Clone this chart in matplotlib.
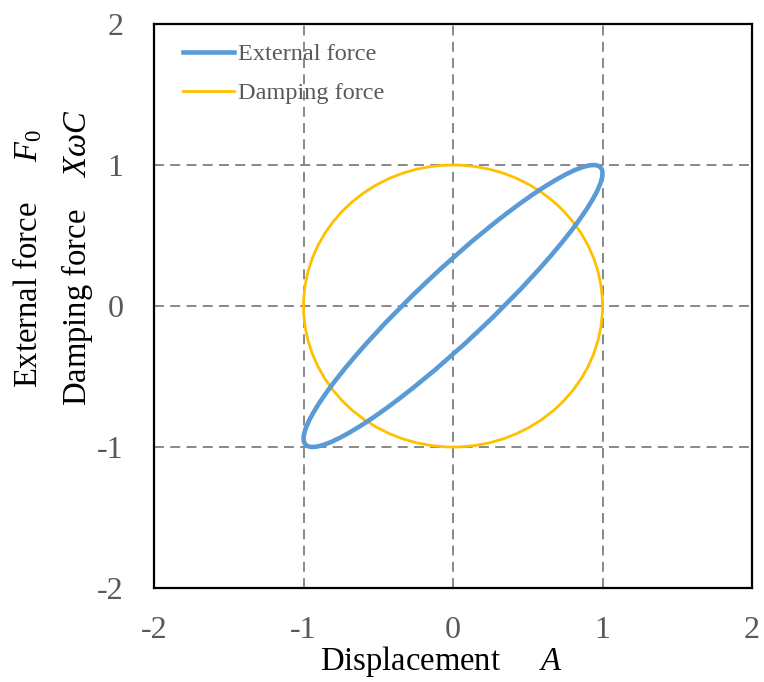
import matplotlib.pyplot as plt
from matplotlib.patches import Ellipse, Circle
from matplotlib.lines import Line2D

plt.rcParams['font.family'] = 'Liberation Serif'
plt.rcParams['mathtext.fontset'] = 'custom'
plt.rcParams['mathtext.rm'] = 'Liberation Serif'
plt.rcParams['mathtext.it'] = 'Liberation Serif:italic'
plt.rcParams['axes.unicode_minus'] = False

# data
ticks = [-2, -1, 0, 1, 2]
grid_vals = [-1, 0, 1]
labels = ['External force', 'Damping force']
colors = ['#5B9BD5', '#FFC000']
# external force loop: ellipse tilted 45 deg (phase lag ~20 deg)
ext_center = (0, 0)
ext_width = 2.785
ext_height = 0.491
ext_angle = 45
# damping force: unit circle
damp_center = (0, 0)
damp_radius = 1.0

fig = plt.figure(figsize=(7.64, 6.82), dpi=100)
ax = fig.add_axes([0.2016, 0.1378, 0.7827, 0.827])

for g in grid_vals:
    ax.axvline(g, color='#7f7f7f', lw=1.3, ls=(0, (5.5, 3.5)), zorder=1)
    ax.axhline(g, color='#7f7f7f', lw=1.3, ls=(0, (5.5, 3.5)), zorder=1)

ax.add_patch(Ellipse(ext_center, ext_width, ext_height, angle=ext_angle,
                     fill=False, ec=colors[0], lw=3.3, zorder=3))
ax.add_patch(Circle(damp_center, damp_radius, fill=False, ec=colors[1], lw=2.0, zorder=2))

ax.set_xlim(-2, 2)
ax.set_ylim(-2, 2)
ax.set_xticks(ticks)
ax.set_yticks(ticks)
ax.tick_params(length=0, labelsize=23, labelcolor='#595959')
ax.tick_params(axis='y', pad=22)
ax.tick_params(axis='x', pad=20)
for s in ax.spines.values():
    s.set_linewidth(1.6)
    s.set_color('black')

ax.set_xlabel(r'Displacement     $A$', fontsize=23.5)
ax.xaxis.set_label_coords(0.48, -0.131)
ax.xaxis.label.set_va('center')
ax.set_ylabel('External force     $F_{\\mathit{0}}$\nDamping force    $X\\omega C$',
              fontsize=23.5, linespacing=1.55, multialignment='center')
ax.yaxis.set_label_coords(-0.17, 0.585)
ax.yaxis.label.set_va('center')

handles = [Line2D([], [], color=colors[0], lw=3.3), Line2D([], [], color=colors[1], lw=2.0)]
leg = ax.legend(handles, labels, loc='upper left', frameon=False, fontsize=17.5,
                handlelength=2.1, handletextpad=0.17, labelspacing=0.7,
                borderaxespad=0.0, borderpad=0.0, bbox_to_anchor=(0.048, 0.966))
for t in leg.get_texts():
    t.set_color('#595959')

fig.savefig('out.png', dpi=100)
